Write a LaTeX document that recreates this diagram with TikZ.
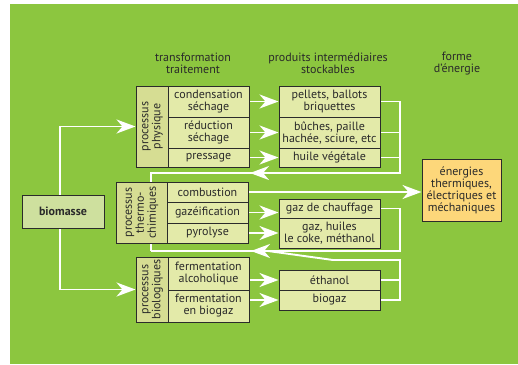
\documentclass[tikz,border=0pt]{standalone}
\usepackage{fontspec}
\usepackage{graphicx}
\usepackage{xcolor}
\setmainfont{PT Sans}
\usetikzlibrary{arrows.meta,backgrounds}

\definecolor{bggreen}{HTML}{8CC63F}
\definecolor{boxfill}{HTML}{E3EAA9}
\definecolor{sidefill}{HTML}{D6DD93}
\definecolor{biofill}{HTML}{CEE09E}
\definecolor{energyfill}{HTML}{FDD77A}
\definecolor{boxline}{HTML}{2B2B2B}
\definecolor{txt}{HTML}{2A2A2A}

\newcommand{\boxfont}{\fontsize{12}{12}\selectfont}
\newcommand{\sidetext}[1]{\rotatebox{90}{\begin{tabular}{@{}c@{}}#1\end{tabular}}}

\tikzset{
  box/.style={draw=boxline, line width=1pt, fill=boxfill, inner sep=1pt,
    align=center, text=txt, font=\boxfont},
  side/.style={box, fill=sidefill},
  head/.style={align=center, text=txt, font=\boxfont},
  link/.style={draw=white, line width=1.9pt},
  flow/.style={link, -{Stealth[length=19pt,width=14pt,inset=6pt]}}
}

\begin{document}
\begin{tikzpicture}[x=1pt,y=-1pt]
  \useasboundingbox (0,0) rectangle (518,364);

  % Column headers
  \node[head] (hTrans) at (193,63.5) {transformation\\traitement};
  \node[head] (hProd) at (328,63.5) {produits interm\'ediaires\\stockables};
  \node[head] (hForme) at (457,63.5) {forme\\d'\'energie};

  % Source
  \node[box, fill=biofill, minimum width=82pt, minimum height=33pt] (biomasse) at (63,211.5) {\textbf{biomasse}};

  % Physical processes
  \node[side, minimum width=32pt, minimum height=81pt] (phys) at (152,126.5) {\sidetext{processus\\physique}};
  \node[box, minimum width=81pt, minimum height=31pt] (cond) at (208.5,101.5) {condensation\\s\'echage};
  \node[box, minimum width=81pt, minimum height=31pt] (reduc) at (208.5,132.5) {r\'eduction\\s\'echage};
  \node[box, minimum width=81pt, minimum height=19pt] (press) at (208.5,157.5) {pressage};

  \node[box, minimum width=101pt, minimum height=31pt] (pellets) at (329.5,101.5) {pellets, ballots\\briquettes};
  \node[box, minimum width=101pt, minimum height=31pt] (buches) at (329.5,132.5) {b\^uches, paille\\hach\'ee, sciure, etc};
  \node[box, minimum width=101pt, minimum height=19pt] (huile) at (329.5,157.5) {huile v\'eg\'etale};

  % Thermochemical processes
  \node[side, minimum width=51pt, minimum height=61pt] (thermo) at (141.5,212.5) {\sidetext{processus\\thermo-\\chimiques}};
  \node[box, minimum width=81pt, minimum height=20pt] (combu) at (207.5,192) {combustion};
  \node[box, minimum width=81pt, minimum height=21pt] (gazei) at (207.5,212.5) {gaz\'eification};
  \node[box, minimum width=81pt, minimum height=20pt] (pyro) at (207.5,233) {pyrolyse};

  \node[box, minimum width=101pt, minimum height=19pt] (chauff) at (329.5,208.5) {gaz de chauffage};
  \node[box, minimum width=101pt, minimum height=30pt] (huiles) at (329.5,233) {gaz, huiles\\le coke, m\'ethanol};

  % Biological processes
  \node[side, minimum width=32pt, minimum height=65pt] (bio) at (152,289.5) {\sidetext{processus\\biologiques}};
  \node[box, minimum width=81pt, minimum height=33pt] (ferAlc) at (208.5,273.5) {fermentation\\alcoholique};
  \node[box, minimum width=81pt, minimum height=32pt] (ferGaz) at (208.5,306) {fermentation\\en biogaz};

  \node[box, minimum width=101pt, minimum height=20pt] (ethanol) at (329.5,280) {\'ethanol};
  \node[box, minimum width=101pt, minimum height=20pt] (biogaz) at (329.5,300) {biogaz};

  % Energy
  \node[box, fill=energyfill, minimum width=79pt, minimum height=62pt] (energie) at (461.5,190) {\'energies\\thermiques,\\\'electriques et\\m\'echaniques};

  % Collector points
  \coordinate (cPhys) at (400,173);
  \coordinate (cTherm) at (400,251);
  \coordinate (cBio) at (400,260);
  \coordinate (kTop) at (151,173);
  \coordinate (kBot) at (151,251);
  \coordinate (aTop) at (250,173);
  \coordinate (aBot) at (251,251);
  \coordinate (kBio) at (333,260);
  \coordinate (mBio) at (268,251);

  \begin{scope}[on background layer]
    \fill[white] (0,0) rectangle (518,364);
    \fill[bggreen] (10,4) rectangle (518,364);

    % Feed lines
    \draw[flow] ([xshift=-3pt]biomasse.center) |- (phys.west);
    \draw[flow] ([xshift=-3pt]biomasse.center) |- (bio.west);

    % Transformations
    \draw[flow] (cond) -- (pellets);
    \draw[flow] (reduc) -- (buches);
    \draw[flow] (press) -- (huile);
    \draw[flow] (gazei.east) -- (gazei.east -| chauff.west);
    \draw[flow] (pyro.east) -- (pyro.east -| huiles.west);
    \draw[flow] (ferAlc.east |- ethanol) -- (ethanol.west);
    \draw[flow] (ferGaz.east |- biogaz) -- (biogaz.west);
    \draw[flow] (combu.east) -- (combu.east -| energie.west);

    % Return loops
    \draw[link] (pellets.east) -| (cPhys) -- (kTop) -- (kBot);
    \draw[link] (buches.east) -- (buches.east -| cPhys);
    \draw[link] (huile.east) -- (huile.east -| cPhys);
    \draw[flow] (cPhys) -- (aTop);
    \draw[link] (chauff.east) -| (cTherm) -- (kBot);
    \draw[flow] (cTherm) -- (aBot);
    \draw[link] (biogaz.east) -| (cBio) -- (kBio) -- (mBio);
    \draw[link] (ethanol.east) -- (ethanol.east -| cBio);
  \end{scope}
\end{tikzpicture}
\end{document}
